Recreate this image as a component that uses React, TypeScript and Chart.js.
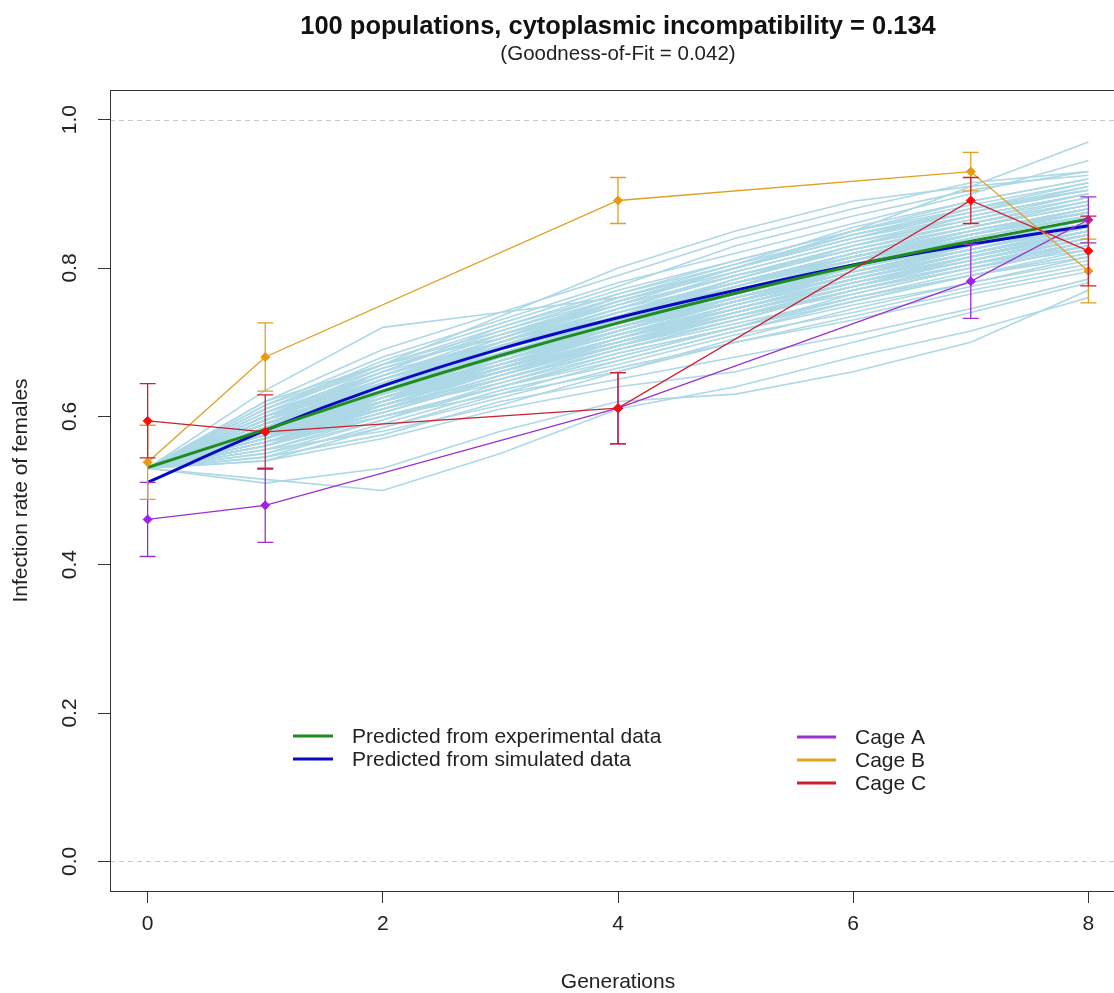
import React, { useEffect, useRef } from "react";
import { Chart, registerables } from "chart.js";

Chart.register(...registerables);

const FONT = "'Liberation Sans', Arial, Helvetica, sans-serif";

const titleText = "100 populations, cytoplasmic incompatibility = 0.134";
const subtitleText = "(Goodness-of-Fit = 0.042)";
const xAxisTitle = "Generations";
const yAxisTitle = "Infection rate of females";

const generations = [0, 1, 2, 3, 4, 5, 6, 7, 8];
const cageGenerations = [0, 1, 4, 7, 8];

const cageA = [0.461, 0.48, 0.611, 0.782, 0.865];
const cageAErr = [0.05, 0.05, 0.048, 0.05, 0.031];
const cageB = [0.538, 0.68, 0.891, 0.93, 0.796];
const cageBErr = [0.05, 0.046, 0.031, 0.026, 0.043];
const cageC = [0.594, 0.579, 0.611, 0.891, 0.823];
const cageCErr = [0.05, 0.05, 0.048, 0.031, 0.047];

const predictedExperimental = [0.531, 0.582, 0.634, 0.682, 0.726, 0.766, 0.803, 0.836, 0.866];
const predictedSimulated = [0.511, 0.581, 0.641, 0.691, 0.733, 0.77, 0.804, 0.832, 0.857];

const xTicks = [0, 2, 4, 6, 8];
const yTicks = [0, 0.2, 0.4, 0.6, 0.8, 1.0];
const yTickLabels = ["0.0", "0.2", "0.4", "0.6", "0.8", "1.0"];
const referenceLines = [0, 1];

const legendLeft = ["Predicted from experimental data", "Predicted from simulated data"];
const legendRight = ["Cage A", "Cage B", "Cage C"];

const simulatedPopulations: number[][] = [
  [0.53, 0.585, 0.64, 0.69, 0.735, 0.775, 0.815, 0.845, 0.875],
  [0.53, 0.57, 0.615, 0.66, 0.7, 0.74, 0.78, 0.81, 0.84],
  [0.53, 0.6, 0.655, 0.705, 0.75, 0.79, 0.83, 0.86, 0.89],
  [0.53, 0.56, 0.6, 0.64, 0.68, 0.72, 0.76, 0.795, 0.83],
  [0.53, 0.58, 0.635, 0.68, 0.73, 0.775, 0.815, 0.85, 0.88],
  [0.53, 0.59, 0.63, 0.67, 0.71, 0.745, 0.785, 0.82, 0.85],
  [0.53, 0.61, 0.67, 0.72, 0.765, 0.81, 0.85, 0.88, 0.91],
  [0.53, 0.575, 0.61, 0.66, 0.705, 0.75, 0.79, 0.825, 0.86],
  [0.53, 0.58, 0.625, 0.675, 0.72, 0.755, 0.8, 0.84, 0.87],
  [0.53, 0.595, 0.65, 0.69, 0.74, 0.78, 0.81, 0.85, 0.88],
  [0.53, 0.565, 0.62, 0.665, 0.715, 0.76, 0.795, 0.83, 0.865],
  [0.53, 0.59, 0.645, 0.7, 0.745, 0.78, 0.82, 0.855, 0.885],
  [0.53, 0.575, 0.625, 0.67, 0.71, 0.75, 0.785, 0.815, 0.845],
  [0.53, 0.585, 0.63, 0.685, 0.725, 0.77, 0.81, 0.84, 0.87],
  [0.53, 0.6, 0.66, 0.7, 0.745, 0.795, 0.835, 0.87, 0.9],
  [0.53, 0.555, 0.595, 0.645, 0.69, 0.73, 0.77, 0.805, 0.835],
  [0.53, 0.58, 0.64, 0.685, 0.73, 0.765, 0.805, 0.835, 0.865],
  [0.53, 0.57, 0.625, 0.675, 0.715, 0.755, 0.79, 0.83, 0.86],
  [0.53, 0.595, 0.64, 0.69, 0.73, 0.775, 0.82, 0.85, 0.875],
  [0.53, 0.585, 0.635, 0.67, 0.715, 0.76, 0.8, 0.83, 0.86],
  [0.53, 0.575, 0.63, 0.68, 0.725, 0.765, 0.805, 0.845, 0.88],
  [0.53, 0.59, 0.65, 0.695, 0.735, 0.775, 0.81, 0.845, 0.875],
  [0.53, 0.565, 0.61, 0.655, 0.7, 0.745, 0.785, 0.82, 0.85],
  [0.53, 0.605, 0.655, 0.7, 0.74, 0.78, 0.82, 0.855, 0.885],
  [0.53, 0.58, 0.62, 0.665, 0.71, 0.745, 0.78, 0.815, 0.85],
  [0.53, 0.575, 0.635, 0.69, 0.735, 0.77, 0.81, 0.84, 0.87],
  [0.53, 0.59, 0.645, 0.685, 0.725, 0.765, 0.8, 0.835, 0.865],
  [0.53, 0.56, 0.605, 0.65, 0.695, 0.735, 0.775, 0.81, 0.845],
  [0.53, 0.595, 0.655, 0.71, 0.76, 0.8, 0.84, 0.87, 0.9],
  [0.53, 0.58, 0.63, 0.675, 0.72, 0.765, 0.8, 0.835, 0.865],
  [0.53, 0.57, 0.62, 0.66, 0.705, 0.74, 0.775, 0.805, 0.835],
  [0.53, 0.585, 0.64, 0.69, 0.74, 0.785, 0.825, 0.86, 0.89],
  [0.53, 0.6, 0.645, 0.685, 0.73, 0.77, 0.805, 0.84, 0.87],
  [0.53, 0.575, 0.615, 0.66, 0.7, 0.74, 0.78, 0.815, 0.845],
  [0.53, 0.59, 0.64, 0.69, 0.735, 0.78, 0.82, 0.85, 0.88],
  [0.53, 0.58, 0.635, 0.68, 0.72, 0.755, 0.795, 0.825, 0.855],
  [0.53, 0.565, 0.615, 0.665, 0.715, 0.755, 0.795, 0.83, 0.86],
  [0.53, 0.61, 0.665, 0.71, 0.755, 0.795, 0.835, 0.865, 0.895],
  [0.53, 0.585, 0.625, 0.67, 0.71, 0.75, 0.79, 0.825, 0.86],
  [0.53, 0.575, 0.63, 0.675, 0.725, 0.77, 0.81, 0.845, 0.875],
  [0.53, 0.59, 0.64, 0.68, 0.72, 0.76, 0.795, 0.83, 0.86],
  [0.53, 0.56, 0.61, 0.655, 0.705, 0.745, 0.785, 0.82, 0.855],
  [0.53, 0.595, 0.65, 0.7, 0.745, 0.79, 0.825, 0.855, 0.885],
  [0.53, 0.58, 0.625, 0.67, 0.715, 0.755, 0.79, 0.82, 0.85],
  [0.53, 0.57, 0.625, 0.675, 0.72, 0.76, 0.8, 0.835, 0.865],
  [0.53, 0.6, 0.65, 0.695, 0.74, 0.775, 0.815, 0.85, 0.88],
  [0.53, 0.575, 0.62, 0.665, 0.705, 0.75, 0.79, 0.825, 0.855],
  [0.53, 0.585, 0.645, 0.69, 0.73, 0.77, 0.81, 0.845, 0.875],
  [0.53, 0.565, 0.605, 0.65, 0.69, 0.73, 0.77, 0.805, 0.84],
  [0.53, 0.59, 0.635, 0.68, 0.725, 0.765, 0.805, 0.835, 0.865],
  [0.53, 0.635, 0.72, 0.74, 0.76, 0.8, 0.85, 0.91, 0.97],
  [0.53, 0.615, 0.68, 0.73, 0.78, 0.82, 0.86, 0.9, 0.945],
  [0.53, 0.62, 0.69, 0.74, 0.79, 0.84, 0.88, 0.915, 0.93],
  [0.53, 0.61, 0.675, 0.725, 0.775, 0.83, 0.87, 0.905, 0.93],
  [0.53, 0.605, 0.67, 0.735, 0.8, 0.85, 0.89, 0.91, 0.925],
  [0.53, 0.515, 0.5, 0.55, 0.61, 0.64, 0.68, 0.715, 0.76],
  [0.53, 0.51, 0.53, 0.58, 0.62, 0.63, 0.66, 0.7, 0.77],
  [0.53, 0.54, 0.57, 0.61, 0.64, 0.66, 0.7, 0.74, 0.78],
  [0.53, 0.545, 0.575, 0.62, 0.65, 0.68, 0.71, 0.745, 0.785],
  [0.53, 0.55, 0.585, 0.625, 0.665, 0.7, 0.735, 0.77, 0.8],
  [0.53, 0.555, 0.58, 0.615, 0.66, 0.705, 0.745, 0.78, 0.81],
  [0.53, 0.545, 0.59, 0.635, 0.67, 0.71, 0.74, 0.775, 0.805],
  [0.53, 0.56, 0.6, 0.63, 0.675, 0.715, 0.755, 0.79, 0.82],
  [0.53, 0.55, 0.595, 0.64, 0.685, 0.72, 0.76, 0.79, 0.815],
  [0.53, 0.54, 0.585, 0.63, 0.66, 0.7, 0.73, 0.765, 0.795],
  [0.53, 0.615, 0.67, 0.715, 0.76, 0.8, 0.845, 0.88, 0.915],
  [0.53, 0.605, 0.66, 0.715, 0.765, 0.805, 0.845, 0.875, 0.905],
  [0.53, 0.6, 0.665, 0.71, 0.75, 0.8, 0.84, 0.875, 0.91],
  [0.53, 0.62, 0.67, 0.705, 0.755, 0.8, 0.85, 0.885, 0.915],
  [0.53, 0.595, 0.66, 0.72, 0.77, 0.81, 0.85, 0.89, 0.92],
  [0.53, 0.575, 0.64, 0.7, 0.755, 0.8, 0.84, 0.88, 0.905],
  [0.53, 0.585, 0.65, 0.705, 0.76, 0.805, 0.855, 0.89, 0.92],
  [0.53, 0.56, 0.62, 0.68, 0.735, 0.785, 0.83, 0.87, 0.9],
  [0.53, 0.57, 0.635, 0.695, 0.745, 0.79, 0.825, 0.86, 0.895],
  [0.53, 0.595, 0.655, 0.7, 0.75, 0.79, 0.83, 0.865, 0.9],
  [0.53, 0.58, 0.615, 0.65, 0.69, 0.725, 0.76, 0.79, 0.825],
  [0.53, 0.565, 0.6, 0.64, 0.675, 0.715, 0.75, 0.78, 0.815],
  [0.53, 0.575, 0.61, 0.655, 0.695, 0.735, 0.765, 0.8, 0.83],
  [0.53, 0.585, 0.62, 0.66, 0.695, 0.73, 0.77, 0.8, 0.825],
  [0.53, 0.59, 0.625, 0.665, 0.7, 0.735, 0.77, 0.805, 0.84],
  [0.53, 0.57, 0.61, 0.645, 0.685, 0.72, 0.755, 0.79, 0.82],
  [0.53, 0.555, 0.6, 0.64, 0.68, 0.72, 0.765, 0.8, 0.835],
  [0.53, 0.575, 0.625, 0.66, 0.7, 0.74, 0.775, 0.81, 0.84],
  [0.53, 0.58, 0.63, 0.665, 0.705, 0.745, 0.78, 0.81, 0.845],
  [0.53, 0.56, 0.615, 0.66, 0.7, 0.735, 0.77, 0.805, 0.83],
  [0.53, 0.6, 0.645, 0.69, 0.735, 0.775, 0.815, 0.845, 0.875],
  [0.53, 0.595, 0.64, 0.685, 0.725, 0.76, 0.8, 0.835, 0.86],
  [0.53, 0.585, 0.635, 0.68, 0.725, 0.76, 0.795, 0.825, 0.855],
  [0.53, 0.575, 0.62, 0.67, 0.715, 0.755, 0.79, 0.825, 0.86],
  [0.53, 0.57, 0.63, 0.68, 0.72, 0.76, 0.8, 0.83, 0.86],
  [0.53, 0.59, 0.63, 0.675, 0.715, 0.755, 0.79, 0.82, 0.85],
  [0.53, 0.58, 0.63, 0.685, 0.73, 0.77, 0.805, 0.835, 0.865],
  [0.53, 0.57, 0.625, 0.67, 0.71, 0.755, 0.795, 0.83, 0.86],
  [0.53, 0.565, 0.61, 0.65, 0.695, 0.74, 0.78, 0.815, 0.85],
  [0.53, 0.6, 0.64, 0.69, 0.74, 0.78, 0.815, 0.845, 0.87],
  [0.53, 0.585, 0.64, 0.695, 0.74, 0.78, 0.815, 0.85, 0.88],
  [0.53, 0.575, 0.625, 0.67, 0.72, 0.76, 0.8, 0.84, 0.87],
  [0.53, 0.58, 0.62, 0.66, 0.705, 0.745, 0.785, 0.82, 0.855],
  [0.53, 0.59, 0.645, 0.695, 0.74, 0.78, 0.82, 0.855, 0.89],
  [0.53, 0.57, 0.615, 0.66, 0.7, 0.735, 0.775, 0.815, 0.85],
];

const COLORS = {
  sim: "#ADD8E6",
  green: "#1E8C1E",
  blue: "#0A0AC0",
  aLine: "#9B30D0",
  aPoint: "#A020F0",
  bLine: "#E0A020",
  bPoint: "#E89A10",
  cLine: "#CC1F2F",
  cPoint: "#FF0A0A",
  axis: "#333333",
  text: "#222222",
  ref: "#C8C8C8",
};

const decorPlugin = {
  id: "decor",
  beforeDatasetsDraw(chart: any) {
    const { ctx, chartArea, scales } = chart;
    ctx.save();
    ctx.strokeStyle = COLORS.ref;
    ctx.lineWidth = 1;
    ctx.setLineDash([5, 4]);
    for (const v of referenceLines) {
      const py = Math.round(scales.y.getPixelForValue(v)) + 0.5;
      ctx.beginPath();
      ctx.moveTo(chartArea.left, py);
      ctx.lineTo(chartArea.right, py);
      ctx.stroke();
    }
    ctx.restore();
  },
  beforeDatasetDraw(chart: any, args: any) {
    const ds = chart.data.datasets[args.index];
    if (!ds.errors) return;
    const { ctx, scales } = chart;
    ctx.save();
    ctx.strokeStyle = ds.borderColor;
    ctx.lineWidth = 1.3;
    ds.data.forEach((p: any, i: number) => {
      const e = ds.errors[i];
      const px = scales.x.getPixelForValue(p.x);
      const y1 = scales.y.getPixelForValue(p.y - e);
      const y2 = scales.y.getPixelForValue(p.y + e);
      ctx.beginPath();
      ctx.moveTo(px, y1);
      ctx.lineTo(px, y2);
      ctx.moveTo(px - 8, y1);
      ctx.lineTo(px + 8, y1);
      ctx.moveTo(px - 8, y2);
      ctx.lineTo(px + 8, y2);
      ctx.stroke();
    });
    ctx.restore();
  },
  afterDraw(chart: any) {
    const { ctx, chartArea, scales } = chart;
    ctx.save();
    ctx.strokeStyle = COLORS.axis;
    ctx.lineWidth = 1;
    ctx.strokeRect(
      Math.round(chartArea.left) + 0.5,
      Math.round(chartArea.top) + 0.5,
      Math.round(chartArea.right - chartArea.left),
      Math.round(chartArea.bottom - chartArea.top)
    );
    ctx.fillStyle = COLORS.text;
    ctx.font = `21px ${FONT}`;
    ctx.textAlign = "center";
    ctx.textBaseline = "middle";
    yTicks.forEach((v, i) => {
      const py = scales.y.getPixelForValue(v);
      ctx.save();
      ctx.translate(chartArea.left - 40, py);
      ctx.rotate(-Math.PI / 2);
      ctx.fillText(yTickLabels[i], 0, 0);
      ctx.restore();
    });
    const cx = (chartArea.left + chartArea.right) / 2;
    ctx.fillStyle = "#111111";
    ctx.textBaseline = "alphabetic";
    ctx.font = `bold 25.5px ${FONT}`;
    ctx.fillText(titleText, cx, 34);
    ctx.fillStyle = COLORS.text;
    ctx.font = `20.5px ${FONT}`;
    ctx.fillText(subtitleText, cx, 60);
    ctx.textAlign = "left";
    ctx.textBaseline = "middle";
    ctx.font = `21px ${FONT}`;
    const leftColors = [COLORS.green, COLORS.blue];
    legendLeft.forEach((t, i) => {
      const y = 736 + i * 23;
      ctx.strokeStyle = leftColors[i];
      ctx.lineWidth = 3;
      ctx.beginPath();
      ctx.moveTo(293, y);
      ctx.lineTo(333, y);
      ctx.stroke();
      ctx.fillStyle = COLORS.text;
      ctx.fillText(t, 352, y + 1);
    });
    const rightColors = [COLORS.aLine, COLORS.bLine, COLORS.cLine];
    legendRight.forEach((t, i) => {
      const y = 737 + i * 23;
      ctx.strokeStyle = rightColors[i];
      ctx.lineWidth = 3;
      ctx.beginPath();
      ctx.moveTo(797, y);
      ctx.lineTo(836, y);
      ctx.stroke();
      ctx.fillStyle = COLORS.text;
      ctx.fillText(t, 855, y + 1);
    });
    ctx.restore();
  },
};

function toPoints(xs: number[], ys: number[]) {
  return ys.map((v, i) => ({ x: xs[i], y: v }));
}

export default function App() {
  const ref = useRef<HTMLCanvasElement | null>(null);

  useEffect(() => {
    const canvas = ref.current;
    if (!canvas) return;
    const datasets: any[] = [];
    simulatedPopulations.forEach((row, k) => {
      datasets.push({
        label: `Population ${k + 1}`,
        data: toPoints(generations, row),
        borderColor: COLORS.sim,
        borderWidth: 1.6,
        pointRadius: 0,
        tension: 0,
        fill: false,
        order: 20,
      });
    });
    datasets.push({
      label: legendLeft[1],
      data: toPoints(generations, predictedSimulated),
      borderColor: COLORS.blue,
      borderWidth: 3,
      pointRadius: 0,
      cubicInterpolationMode: "monotone",
      fill: false,
      order: 8,
    });
    datasets.push({
      label: legendLeft[0],
      data: toPoints(generations, predictedExperimental),
      borderColor: COLORS.green,
      borderWidth: 3,
      pointRadius: 0,
      cubicInterpolationMode: "monotone",
      fill: false,
      order: 7,
    });
    const cages = [
      { label: legendRight[0], v: cageA, e: cageAErr, line: COLORS.aLine, pt: COLORS.aPoint, order: 3 },
      { label: legendRight[1], v: cageB, e: cageBErr, line: COLORS.bLine, pt: COLORS.bPoint, order: 2 },
      { label: legendRight[2], v: cageC, e: cageCErr, line: COLORS.cLine, pt: COLORS.cPoint, order: 1 },
    ];
    cages.forEach((c) => {
      datasets.push({
        label: c.label,
        data: toPoints(cageGenerations, c.v),
        errors: c.e,
        borderColor: c.line,
        borderWidth: 1.3,
        pointStyle: "rectRot",
        pointRadius: 4.5,
        pointBackgroundColor: c.pt,
        pointBorderColor: c.pt,
        pointBorderWidth: 1,
        tension: 0,
        fill: false,
        order: c.order,
      });
    });

    const chart = new Chart(canvas, {
      type: "line",
      data: { datasets },
      options: {
        responsive: false,
        animation: false,
        devicePixelRatio: 1,
        layout: { padding: { left: 0, top: 90, right: 14, bottom: 0 } },
        plugins: {
          legend: { display: false },
          title: { display: false },
          tooltip: { enabled: false },
        },
        events: [],
        scales: {
          x: {
            type: "linear",
            min: -0.32,
            max: 8.32,
            afterBuildTicks: (axis: any) => {
              axis.ticks = xTicks.map((v) => ({ value: v }));
            },
            afterFit: (axis: any) => {
              axis.height = 102;
            },
            grid: { drawOnChartArea: false, drawTicks: true, tickLength: 12, color: COLORS.axis, lineWidth: 1 },
            border: { display: true, color: COLORS.axis, width: 1 },
            ticks: {
              font: { family: FONT, size: 21 },
              color: COLORS.text,
              padding: 9,
              maxRotation: 0,
              autoSkip: false,
              callback: (v: any) => String(v),
            },
            title: {
              display: true,
              text: xAxisTitle,
              font: { family: FONT, size: 21, lineHeight: 1 },
              color: COLORS.text,
              padding: { top: 0, bottom: 0 },
            },
          },
          y: {
            type: "linear",
            min: -0.04,
            max: 1.04,
            afterBuildTicks: (axis: any) => {
              axis.ticks = yTicks.map((v) => ({ value: v }));
            },
            afterFit: (axis: any) => {
              axis.width = 110;
            },
            grid: { drawOnChartArea: false, drawTicks: true, tickLength: 12, color: COLORS.axis, lineWidth: 1 },
            border: { display: true, color: COLORS.axis, width: 1 },
            ticks: { display: false },
            title: {
              display: true,
              text: yAxisTitle,
              font: { family: FONT, size: 21 },
              color: COLORS.text,
              padding: { top: 9, bottom: 0 },
            },
          },
        },
      } as any,
      plugins: [decorPlugin],
    });
    return () => chart.destroy();
  }, []);

  return (
    <div
      style={{
        position: "fixed",
        left: 0,
        top: 0,
        width: 1114,
        height: 993,
        overflow: "hidden",
        background: "#ffffff",
      }}
    >
      <canvas ref={ref} width={1140} height={993} style={{ display: "block", width: 1140, height: 993 }} />
    </div>
  );
}
